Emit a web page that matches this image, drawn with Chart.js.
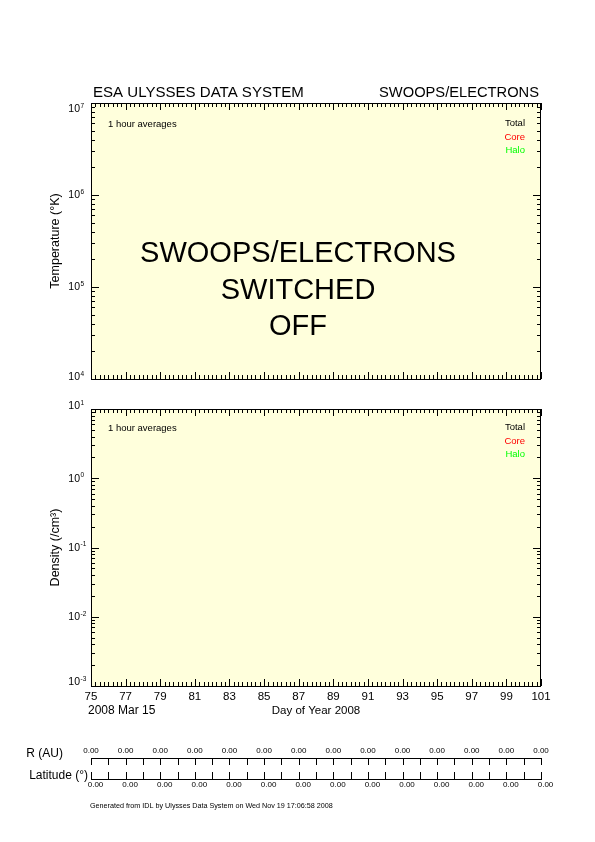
<!DOCTYPE html>
<html>
<head>
<meta charset="utf-8">
<title>SWOOPS/ELECTRONS</title>
<script src="https://cdn.jsdelivr.net/npm/chart.js@4.4.1/dist/chart.umd.min.js"></script>
<style>
  html, body { margin: 0; padding: 0; background: #fff; }
  #page { position: relative; width: 595px; height: 842px; overflow: hidden; }
  #page canvas { position: absolute; left: 0; top: 0; }
</style>
</head>
<body>
<div id="page">
  <canvas id="tempChart" width="595" height="842"></canvas>
  <canvas id="densChart" width="595" height="842"></canvas>
  <canvas id="orbitChart" width="595" height="842"></canvas>
</div>
<script>
// ====== Data ======
const dayMin = 75, dayMax = 101;
const dayLabels = [75, 77, 79, 81, 83, 85, 87, 89, 91, 93, 95, 97, 99, 101];
const seriesNames = ['Total', 'Core', 'Halo'];
// instrument switched off: no samples in either panel
const tempTotal = [], tempCore = [], tempHalo = [];
const densTotal = [], densCore = [], densHalo = [];
const tempDecades = [4, 5, 6, 7];
const densDecades = [-3, -2, -1, 0, 1];
const rAU = ['0.00', '0.00', '0.00', '0.00', '0.00', '0.00', '0.00',
             '0.00', '0.00', '0.00', '0.00', '0.00', '0.00', '0.00'];
const latDeg = ['0.00', '0.00', '0.00', '0.00', '0.00', '0.00', '0.00',
                '0.00', '0.00', '0.00', '0.00', '0.00', '0.00', '0.00'];

const FONT = '"Liberation Sans", Arial, Helvetica, sans-serif';
const lineColors = { Total: '#000000', Core: '#ff0000', Halo: '#00ff00' };
Chart.defaults.font.family = FONT;
Chart.defaults.color = '#000';

function font(size) { return `${size}px ${FONT}`; }

// ====== Panel decoration: background, frame, inward ticks, labels ======
const panelPlugin = {
    id: 'panel',
    beforeDraw(chart) {
        const { ctx, chartArea: a } = chart;
        ctx.save();
        ctx.fillStyle = '#ffffdc';
        ctx.fillRect(a.left, a.top, a.right - a.left, a.bottom - a.top);
        ctx.restore();
    },
    afterDraw(chart, args, o) {
        const { ctx, chartArea: a, scales: { x, y } } = chart;
        ctx.save();
        ctx.strokeStyle = '#000';
        ctx.lineWidth = 1;
        ctx.strokeRect(a.left + 0.5, a.top + 0.5, a.right - a.left - 1, a.bottom - a.top);

        ctx.beginPath();
        // x ticks every 6 hours, long ones every 2 days
        for (let i = 0; i <= (dayMax - dayMin) * 4; i++) {
            const px = Math.round(x.getPixelForValue(dayMin + i / 4)) + 0.5;
            const len = i % 8 === 0 ? 7 : 4;
            ctx.moveTo(px, a.bottom); ctx.lineTo(px, a.bottom - len);
            ctx.moveTo(px, a.top); ctx.lineTo(px, a.top + len);
        }
        // log y ticks
        o.decades.forEach((e, k) => {
            const py = Math.round(y.getPixelForValue(10 ** e)) + 0.5;
            ctx.moveTo(a.left, py); ctx.lineTo(a.left + 8, py);
            ctx.moveTo(a.right, py); ctx.lineTo(a.right - 8, py);
            if (k < o.decades.length - 1) {
                for (let m = 2; m <= 9; m++) {
                    const pm = Math.round(y.getPixelForValue(m * 10 ** e)) + 0.5;
                    ctx.moveTo(a.left, pm); ctx.lineTo(a.left + 4, pm);
                    ctx.moveTo(a.right, pm); ctx.lineTo(a.right - 4, pm);
                }
            }
        });
        ctx.stroke();

        // y tick labels 10^n
        ctx.fillStyle = '#000';
        ctx.textBaseline = 'middle';
        o.decades.forEach((e, k) => {
            let py = y.getPixelForValue(10 ** e);
            if (k === 0) py += o.edgeShift[0];
            else if (k === o.decades.length - 1) py += o.edgeShift[1];
            ctx.font = font(10.5);
            ctx.textAlign = 'right';
            ctx.fillText('10', 80, py + 0.5);
            ctx.font = font(6.5);
            ctx.textAlign = 'left';
            ctx.fillText(String(e), 80.5, py - 3);
        });

        // y title
        ctx.save();
        ctx.translate(56, (a.top + a.bottom) / 2);
        ctx.rotate(-Math.PI / 2);
        ctx.textAlign = 'center';
        ctx.font = font(12.5);
        ctx.fillText(o.title, 0, 0);
        ctx.restore();

        // averaging note and legend
        ctx.font = font(9.5);
        ctx.textAlign = 'left';
        ctx.fillText('1 hour averages', 108, o.noteY);
        ctx.textAlign = 'right';
        chart.data.datasets.forEach((ds, i) => {
            ctx.fillStyle = ds.borderColor;
            ctx.fillText(ds.label, 525, o.legendY + i * 13.4);
        });

        // status message
        if (o.message) {
            ctx.fillStyle = '#000';
            ctx.textAlign = 'center';
            ctx.textBaseline = 'alphabetic';
            ctx.font = font(29);
            o.message.forEach((line, i) => ctx.fillText(line, 298, 262 + i * 36.6));
        }
        ctx.restore();
    }
};

function panelChart(id, series, yMin, yMax, padding, xScale, panelOpts) {
    return new Chart(document.getElementById(id), {
        type: 'line',
        data: {
            datasets: series.map((d, i) => ({
                label: seriesNames[i], data: d,
                borderColor: lineColors[seriesNames[i]], borderWidth: 1,
                pointRadius: 0, fill: false
            }))
        },
        options: {
            responsive: false, animation: false,
            layout: { padding },
            plugins: { legend: { display: false }, tooltip: { enabled: false }, panel: panelOpts },
            scales: {
                x: xScale,
                y: { type: 'logarithmic', min: yMin, max: yMax, display: false }
            }
        },
        plugins: [panelPlugin]
    });
}

// ====== Temperature panel ======
panelChart('tempChart', [tempTotal, tempCore, tempHalo], 1e4, 1e7,
    { left: 91, right: 54, top: 103, bottom: 463 },
    { type: 'linear', min: dayMin, max: dayMax, display: false },
    {
        decades: tempDecades, edgeShift: [-2, 6], title: 'Temperature (°K)',
        noteY: 124, legendY: 123.5,
        message: ['SWOOPS/ELECTRONS', 'SWITCHED', 'OFF']
    });

// ====== Density panel ======
panelChart('densChart', [densTotal, densCore, densHalo], 1e-3, 1e1,
    { left: 91, right: 54, top: 409, bottom: 123 },
    {
        type: 'linear', min: dayMin, max: dayMax, position: 'bottom',
        afterBuildTicks: s => { s.ticks = dayLabels.map(v => ({ value: v })); },
        afterFit: s => { s.height = 33; },
        grid: { display: false, drawTicks: false },
        border: { display: false },
        ticks: {
            autoSkip: false, maxRotation: 0, padding: 4, color: '#000',
            font: { size: 11.5 }, callback: v => String(v)
        },
        title: {
            display: true, text: 'Day of Year 2008', color: '#000',
            font: { size: 11.5 }, padding: { top: 0, bottom: 1 }
        }
    },
    {
        decades: densDecades, edgeShift: [-4, -3], title: 'Density (/cm³)',
        noteY: 428.5, legendY: 427.5
    });

// ====== Orbit axis (R and latitude) ======
function orbitAxis(position, labels, pad, offset) {
    return {
        type: 'linear', axis: 'x', position, min: dayMin, max: dayMax,
        afterBuildTicks: s => { s.ticks = dayLabels.map(v => ({ value: v })); },
        afterFit: s => { s.height = 20; },
        grid: { display: false, drawTicks: false },
        border: { display: true, color: '#000', width: 1 },
        ticks: {
            autoSkip: false, maxRotation: 0, padding: pad, labelOffset: offset,
            color: '#000', font: { size: 8 }, callback: (v, i) => labels[i]
        }
    };
}

const orbitPlugin = {
    id: 'orbitTicks',
    afterDraw(chart) {
        const { ctx, chartArea: a, scales: { xr } } = chart;
        ctx.save();
        ctx.strokeStyle = '#000';
        ctx.lineWidth = 1;
        ctx.beginPath();
        for (let d = dayMin; d <= dayMax; d++) {
            const px = Math.round(xr.getPixelForValue(d)) + 0.5;
            ctx.moveTo(px, a.top); ctx.lineTo(px, a.top + 7);
            ctx.moveTo(px, a.bottom); ctx.lineTo(px, a.bottom - 7);
        }
        ctx.stroke();
        ctx.restore();
    }
};

// page titles and captions
const pageTextPlugin = {
    id: 'pageText',
    afterDraw(chart) {
        const { ctx } = chart;
        const put = (txt, x, y, size, align, base) => {
            ctx.font = font(size);
            ctx.textAlign = align;
            ctx.textBaseline = base;
            ctx.fillText(txt, x, y);
        };
        // size the text so it spans the given width
        const fit = (txt, x, y, width, align, base) => {
            ctx.font = font(10);
            put(txt, x, y, 10 * width / ctx.measureText(txt).width, align, base);
        };
        ctx.save();
        ctx.fillStyle = '#000';
        fit('ESA ULYSSES DATA SYSTEM', 93, 97, 211, 'left', 'alphabetic');
        fit('SWOOPS/ELECTRONS', 539, 97, 160, 'right', 'alphabetic');
        put('2008 Mar 15', 88, 710.5, 12, 'left', 'middle');
        put('R (AU)', 63, 753.5, 12, 'right', 'middle');
        put('Latitude (°)', 88, 775.5, 12, 'right', 'middle');
        fit('Generated from IDL by Ulysses Data System on Wed Nov 19 17:06:58 2008',
            90, 806.5, 243, 'left', 'middle');
        ctx.restore();
    }
};

new Chart(document.getElementById('orbitChart'), {
    type: 'line',
    data: { datasets: [] },
    options: {
        responsive: false, animation: false,
        layout: { padding: { left: 91, right: 54, top: 738, bottom: 43 } },
        plugins: { legend: { display: false }, tooltip: { enabled: false } },
        scales: {
            xr: orbitAxis('top', rAU, 2.7, 0),
            xl: orbitAxis('bottom', latDeg, 1.2, 4.5),
            y: { display: false }
        }
    },
    plugins: [orbitPlugin, pageTextPlugin]
});
</script>
</body>
</html>
